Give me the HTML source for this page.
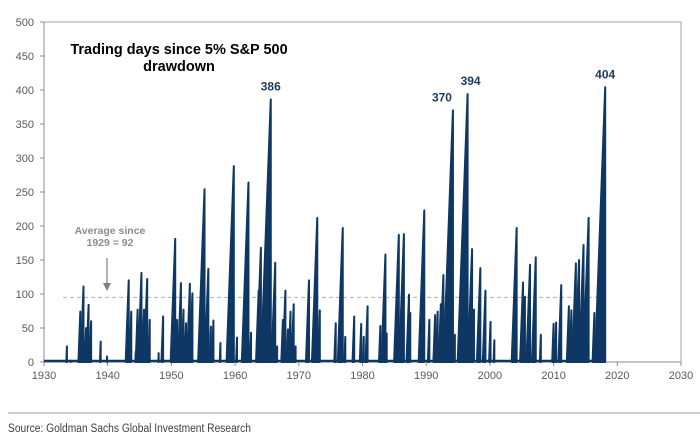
<!DOCTYPE html>
<html><head><meta charset="utf-8"><style>
html,body{margin:0;padding:0;background:#fff;}
svg{display:block;font-family:"Liberation Sans",Arial,sans-serif;}
</style></head><body>
<svg id="chart" width="700" height="440" viewBox="0 0 700 440"></svg>
<script>
const peakYears=[1933.6,1934.2,1935.7,1936.2,1936.6,1937.0,1937.4,1938.9,1939.9,1943.3,1943.7,1944.4,1944.7,1945.3,1945.7,1946.2,1946.6,1948.0,1948.7,1950.6,1950.9,1951.5,1951.9,1952.3,1952.9,1953.3,1955.2,1955.8,1956.2,1956.6,1957.7,1959.8,1960.3,1962.1,1962.5,1963.7,1964.05,1965.6,1966.3,1966.6,1967.5,1967.9,1968.3,1968.7,1969.2,1969.5,1971.6,1972.9,1973.3,1975.8,1976.9,1977.3,1978.7,1979.8,1980.2,1980.8,1982.8,1983.6,1983.8,1985.7,1986.5,1987.3,1987.5,1989.7,1990.5,1991.4,1991.8,1992.3,1992.7,1994.2,1994.5,1996.5,1997.2,1997.5,1998.5,1999.3,2000.1,2000.7,2004.2,2005.2,2005.5,2006.3,2007.2,2008.0,2010.0,2010.4,2011.2,2012.4,2012.8,2013.5,2014.0,2014.7,2015.5,2016.4,2018.1];
const peakValues=[23,2,74,111,50,84,60,30,8,120,74,15,77,131,77,122,62,13,67,181,62,116,77,57,115,101,254,137,52,61,28,288,36,264,43,105,168,386,146,23,62,105,48,74,85,23,120,212,76,57,197,37,67,56,37,82,53,158,42,187,188,99,72,223,62,69,74,85,128,370,40,394,166,77,138,105,59,32,197,117,96,143,154,40,56,58,113,82,76,145,150,172,212,72,404];
const yTicks=[0,50,100,150,200,250,300,350,400,450,500];
const xTicks=[1930,1940,1950,1960,1970,1980,1990,2000,2010,2020,2030];
const labelYears=[1965.6,1994.2,1996.5,2018.1];
const labelValues=[386,370,394,404];
const averageValue=95;

const NS="http://www.w3.org/2000/svg";
const svg=document.getElementById('chart');
const X0=44,X1=681,Y0=362,Y1=22;
const xs=y=>X0+(y-1930)/100*(X1-X0);
const ys=v=>Y0-v/500*(Y0-Y1);
function mk(tag,attrs,parent){const e=document.createElementNS(NS,tag);for(const k in attrs)e.setAttribute(k,attrs[k]);(parent||svg).appendChild(e);return e;}

// frame
let fr=mk('path',{d:`M${X0},${Y1}H${X1}V${Y0}`,fill:'none',stroke:'#a6a6a6','stroke-width':1});


let xa=mk('line',{x1:X0,x2:X1,y1:Y0,y2:Y0,stroke:'#8c8c8c','stroke-width':1});


let ya=mk('line',{x1:X0,x2:X0,y1:Y1,y2:Y0,stroke:'#8c8c8c','stroke-width':1});



yTicks.forEach(v=>{
  mk('line',{x1:X0-4,x2:X0,y1:ys(v),y2:ys(v),stroke:'#8c8c8c'});
  const t=mk('text',{x:34,y:ys(v)+4,'text-anchor':'end','font-size':11,fill:'#595959'});
  t.textContent=v;
  
  
});
xTicks.forEach(v=>{
  mk('line',{x1:xs(v),x2:xs(v),y1:Y0,y2:Y0+4,stroke:'#8c8c8c'});
  const t=mk('text',{x:xs(v),y:379,'text-anchor':'middle','font-size':11,fill:'#595959'});
  t.textContent=v;
  
  
});

// average line
let av=mk('line',{x1:xs(1933),x2:xs(2017),y1:ys(averageValue),y2:ys(averageValue),stroke:'#b0b0b0','stroke-width':1,'stroke-dasharray':'4,3'});



// series
const g=mk('g',{});


peakYears.forEach((yr,i)=>{
  const v=peakValues[i];
  const start=yr-v/252;
  const p=mk('path',{d:`M${xs(start)},${ys(0)}L${xs(yr)},${ys(v)}L${xs(yr)},${ys(0)}Z`,fill:'#0f3764',stroke:'#0f3764','stroke-width':2,'stroke-linejoin':'round'},g);
  
  
});
let base=mk('line',{x1:X0,x2:xs(2018.2),y1:Y0-1,y2:Y0-1,stroke:'#0f3764','stroke-width':2.5},g);



labelYears.forEach((yr,i)=>{
  const t=mk('text',{x:xs(yr)-(i===1?11:0)+(i===2?3:0),y:ys(labelValues[i])-9,'text-anchor':'middle','font-size':12,'font-weight':'bold',fill:'#1f3b5c'});
  t.textContent=labelValues[i];
  
  
});
</script>
<svg style="position:absolute;left:0;top:0" width="700" height="440">
  <text x="179" y="54" text-anchor="middle" font-size="14.5" font-weight="bold" fill="#000" font-family="Liberation Sans, sans-serif">Trading days since 5% S&amp;P 500</text>
  <text x="179" y="71" text-anchor="middle" font-size="14.5" font-weight="bold" fill="#000" font-family="Liberation Sans, sans-serif">drawdown</text>
  <text x="110" y="234" text-anchor="middle" font-size="10.5" font-weight="bold" fill="#8c8c8c" font-family="Liberation Sans, sans-serif">Average since</text>
  <text x="110" y="246" text-anchor="middle" font-size="10.5" font-weight="bold" fill="#8c8c8c" font-family="Liberation Sans, sans-serif">1929 = 92</text>
  <line x1="107" y1="258" x2="107" y2="286" stroke="#808080" stroke-width="1.2"/>
  <path d="M103,283 L107,291 L111,283 Z" fill="#808080"/>
  <line x1="8" y1="413" x2="700" y2="413" stroke="#999" stroke-width="1"/>
  <text x="8" y="432" font-size="11.5" fill="#404040" textLength="243" lengthAdjust="spacingAndGlyphs" font-family="Liberation Sans, sans-serif">Source: Goldman Sachs Global Investment Research</text>
</svg>
</body></html>
